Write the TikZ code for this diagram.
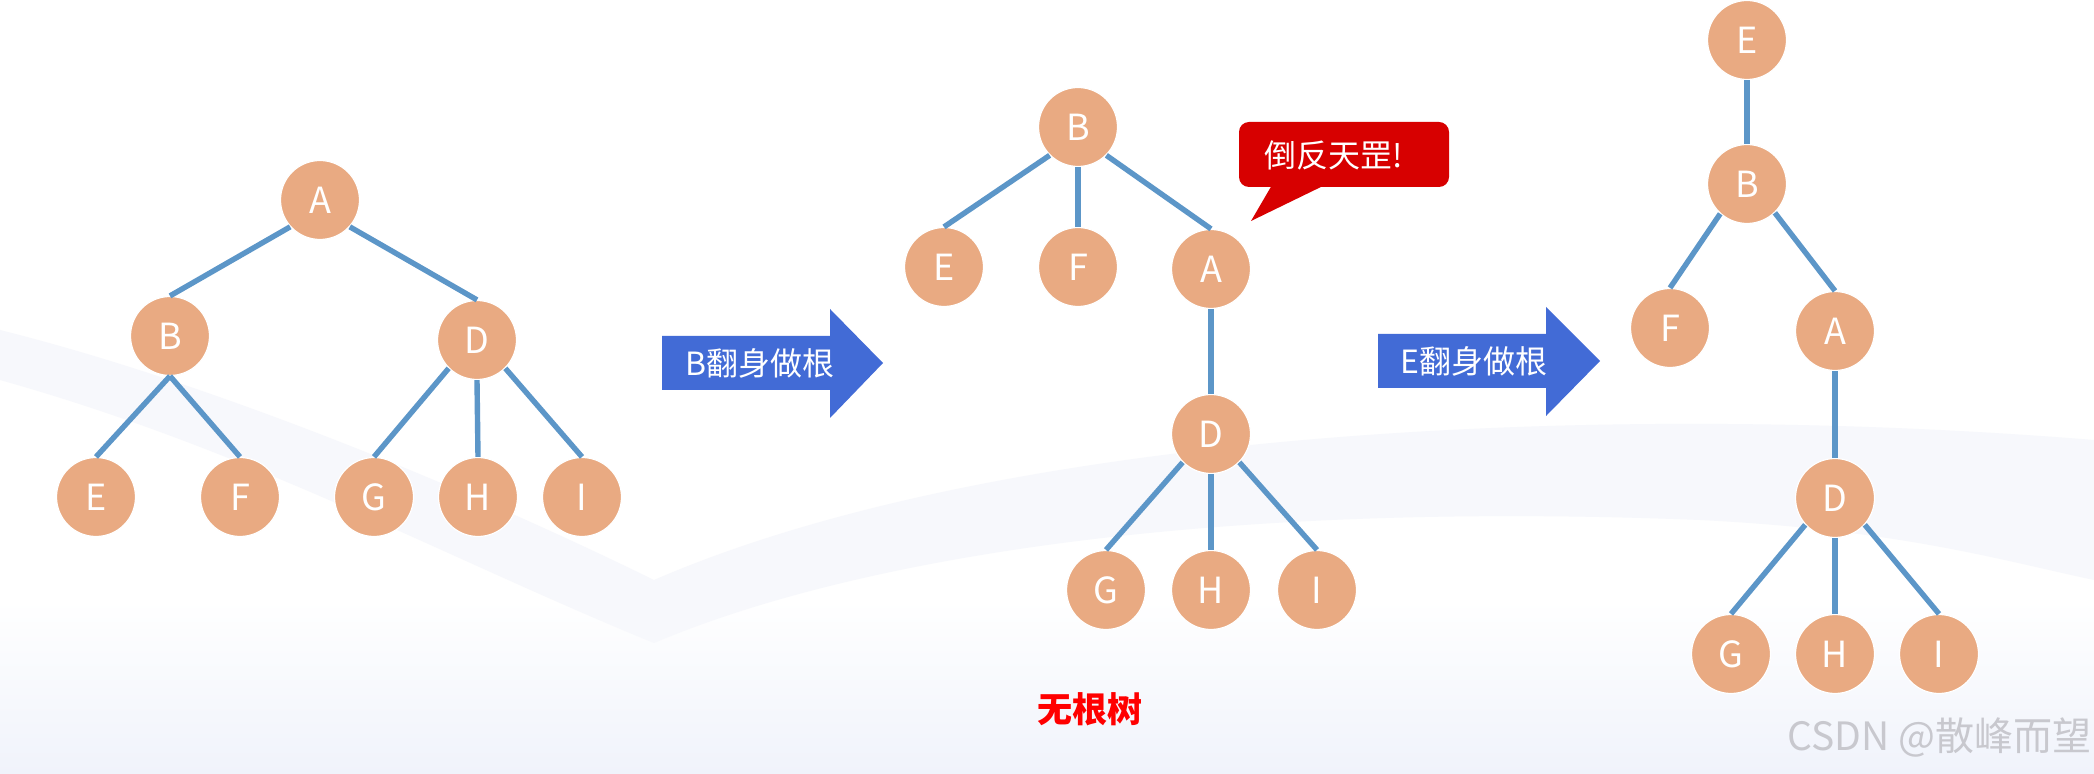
\documentclass[tikz,border=0pt]{standalone}
\usepackage{fontspec}
\setmainfont{Noto Sans CJK SC}
\definecolor{nodefill}{RGB}{233,170,130}
\definecolor{edgeblue}{RGB}{92,150,200}
\definecolor{arrowblue}{RGB}{66,107,214}
\definecolor{calloutred}{RGB}{215,0,0}
\definecolor{wmgray}{RGB}{200,200,206}
\definecolor{bgband}{RGB}{247,248,252}
\definecolor{bgbottom}{RGB}{240,243,251}
\begin{document}
\begin{tikzpicture}[x=0.5pt,y=-0.5pt,
  tnode/.style={circle, fill=nodefill, draw=white, line width=0.6pt,
    minimum size=39.5pt, inner sep=0pt, text=white,
    font=\fontsize{18}{20}\selectfont},
  tedge/.style={draw=edgeblue, line width=2.7pt},
  bigarrow/.style={fill=arrowblue},
  arrowlabel/.style={text=white, inner sep=0pt, font=\fontsize{16}{18}\selectfont},
  calloutbox/.style={fill=calloutred, rounded corners=5pt},
  calloutlabel/.style={text=white, inner sep=0pt, font=\fontsize{16}{18}\selectfont},
  titlelabel/.style={text=red, inner sep=0pt, font=\fontsize{17.5}{20}\selectfont\bfseries},
  wmlabel/.style={text=wmgray, inner sep=0pt, anchor=east, font=\fontsize{19.5}{22}\selectfont}]
\useasboundingbox (0,0) rectangle (2094,774);
% background
\fill[white] (0,0) rectangle (2094,774);
\shade[top color=white, bottom color=bgbottom] (0,600) rectangle (2094,774);
\fill[bgband] (0,380) .. controls (250,450) and (450,560) .. (654,643)
  .. controls (850,560) and (1200,500) .. (1700,520)
  .. controls (1900,530) and (2000,560) .. (2094,580) -- (2094,440)
  .. controls (1600,400) and (1000,430) .. (654,580)
  .. controls (450,480) and (200,380) .. (0,330) -- cycle;

% ---------- tree 1 ----------
\node[tnode] (A1) at (320,200) {A};
\node[tnode] (B1) at (170,336) {B};
\node[tnode] (D1) at (477,340) {D};
\node[tnode] (E1) at (96,497) {E};
\node[tnode] (F1) at (240,497) {F};
\node[tnode] (G1) at (374,497) {G};
\node[tnode] (H1) at (478,497) {H};
\node[tnode] (I1) at (582,497) {I};
\draw[tedge] (A1.222) -- (B1.north);
\draw[tedge] (A1.318) -- (D1.north);
\draw[tedge] (B1.south) -- (E1.north);
\draw[tedge] (B1.south) -- (F1.north);
\draw[tedge] (D1.225) -- (G1.north);
\draw[tedge] (D1.south) -- (H1.north);
\draw[tedge] (D1.315) -- (I1.north);

% ---------- arrow 1 ----------
\fill[bigarrow] (662,336) -- (830,336) -- (830,309) -- (883,363) -- (830,418) -- (830,390) -- (662,390) -- cycle;
\node[arrowlabel] (arrowtext1) at (760,363) {B翻身做根};

% ---------- tree 2 ----------
\node[tnode] (B2) at (1078,127) {B};
\node[tnode] (E2) at (944,267) {E};
\node[tnode] (F2) at (1078,267) {F};
\node[tnode] (A2) at (1211,269) {A};
\node[tnode] (D2) at (1211,434) {D};
\node[tnode] (G2) at (1106,590) {G};
\node[tnode] (H2) at (1211,590) {H};
\node[tnode] (I2) at (1317,590) {I};
\draw[tedge] (B2.225) -- (E2.north);
\draw[tedge] (B2.south) -- (F2.north);
\draw[tedge] (B2.315) -- (A2.north);
\draw[tedge] (A2.south) -- (D2.north);
\draw[tedge] (D2.225) -- (G2.north);
\draw[tedge] (D2.south) -- (H2.north);
\draw[tedge] (D2.315) -- (I2.north);

% callout
\fill[calloutbox] (1239,122) rectangle (1449,187);
\fill[calloutred] (1272,185) -- (1251,221) -- (1325,185) -- cycle;
\node[calloutlabel] (callout) at (1334,155) {倒反天罡!};

\node[titlelabel] (title) at (1090,709) {无根树};

% ---------- arrow 2 ----------
\fill[bigarrow] (1378,334) -- (1546,334) -- (1546,307) -- (1600,361) -- (1546,416) -- (1546,388) -- (1378,388) -- cycle;
\node[arrowlabel] (arrowtext2) at (1474,361) {E翻身做根};

% ---------- tree 3 ----------
\node[tnode] (E3) at (1747,40) {E};
\node[tnode] (B3) at (1747,184) {B};
\node[tnode] (F3) at (1670,328) {F};
\node[tnode] (A3) at (1835,331) {A};
\node[tnode] (D3) at (1835,498) {D};
\node[tnode] (G3) at (1731,654) {G};
\node[tnode] (H3) at (1835,654) {H};
\node[tnode] (I3) at (1939,654) {I};
\draw[tedge] (E3.south) -- (B3.north);
\draw[tedge] (B3.228) -- (F3.north);
\draw[tedge] (B3.314) -- (A3.north);
\draw[tedge] (A3.south) -- (D3.north);
\draw[tedge] (D3.222) -- (G3.north);
\draw[tedge] (D3.south) -- (H3.north);
\draw[tedge] (D3.318) -- (I3.north);

% watermark
\node[wmlabel] (watermark) at (2092,737) {CSDN @散峰而望};
\end{tikzpicture}
\end{document}
